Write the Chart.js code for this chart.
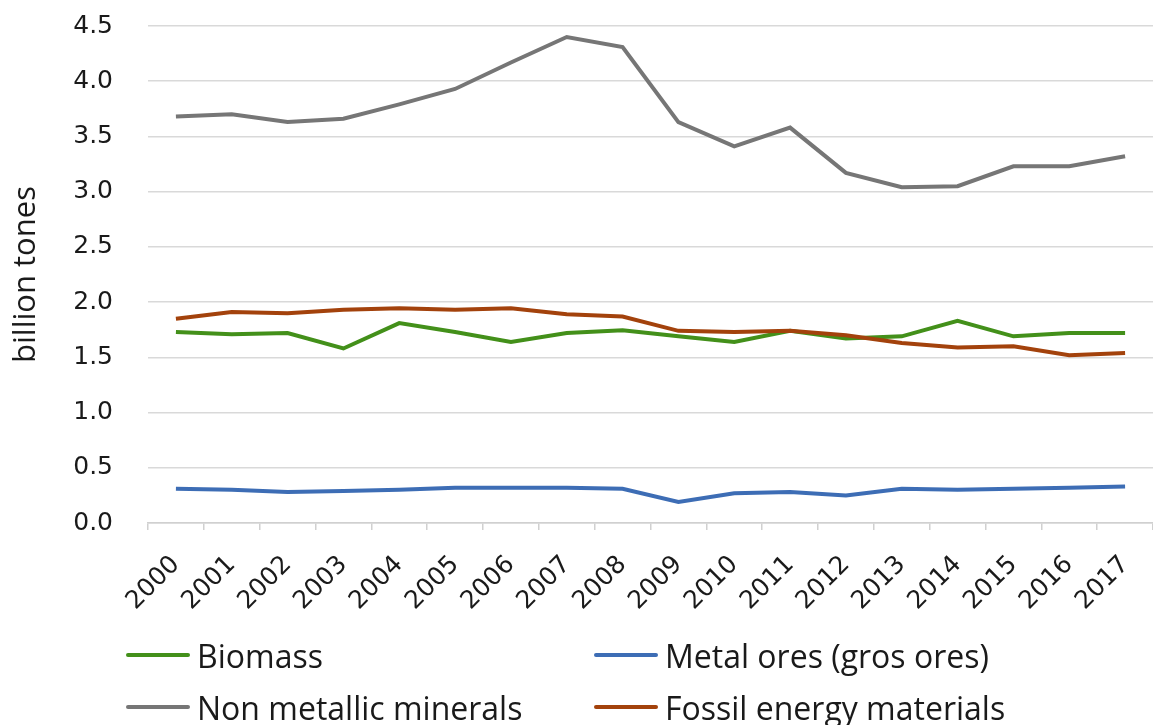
<!DOCTYPE html>
<html>
<head>
<meta charset="utf-8">
<script src="https://cdn.jsdelivr.net/npm/chart.js@4/dist/chart.umd.min.js"></script>
<style>
    body { margin: 0; background: #fff; }
    #wrap { position: relative; width: 1153px; height: 725px; }
    #legend { position: absolute; left: 126px; top: 632px; width: 1000px;
              display: grid; grid-template-columns: 468px 500px; row-gap: 6px;
              font-family: "Open Sans", sans-serif; font-size: 32px; color: #1a1a1a; }
    .item { display: flex; align-items: center; height: 46px; white-space: nowrap; }
    .swatch { width: 64px; height: 4px; margin-right: 7px; border-radius: 2px; }
</style>
</head>
<body>
<div id="wrap">
    <canvas id="material-chart" width="1153" height="725"></canvas>
    <div id="legend"></div>
</div>
<script>
const years = ['2000', '2001', '2002', '2003', '2004', '2005', '2006', '2007', '2008',
               '2009', '2010', '2011', '2012', '2013', '2014', '2015', '2016', '2017'];

const biomass = [1.73, 1.71, 1.72, 1.58, 1.81, 1.73, 1.64, 1.72, 1.745,
                 1.69, 1.64, 1.74, 1.67, 1.69, 1.83, 1.69, 1.72, 1.72];
const metalOres = [0.31, 0.30, 0.28, 0.29, 0.30, 0.32, 0.32, 0.32, 0.31,
                   0.19, 0.27, 0.28, 0.25, 0.31, 0.30, 0.31, 0.32, 0.33];
const nonMetallic = [3.68, 3.70, 3.63, 3.66, 3.79, 3.93, 4.17, 4.40, 4.31,
                     3.63, 3.41, 3.58, 3.17, 3.04, 3.05, 3.23, 3.23, 3.32];
const fossil = [1.85, 1.91, 1.90, 1.93, 1.945, 1.93, 1.945, 1.89, 1.87,
                1.74, 1.73, 1.74, 1.70, 1.63, 1.59, 1.60, 1.52, 1.54];

const yTicks = [0, 0.5, 1.0, 1.5, 2.0, 2.5, 3.0, 3.5, 4.0, 4.5];

const series = [
    { label: 'Biomass', data: biomass, color: '#43901a' },
    { label: 'Metal ores (gros ores)', data: metalOres, color: '#3d6db5' },
    { label: 'Non metallic minerals', data: nonMetallic, color: '#767676' },
    { label: 'Fossil energy materials', data: fossil, color: '#a3420c' }
];

const tickFont = { family: 'DejaVu Sans', size: 25 };

const ctx = document.getElementById('material-chart').getContext('2d');
new Chart(ctx, {
    type: 'line',
    data: {
        labels: years,
        datasets: series.map((s, i) => ({
            label: s.label,
            data: s.data,
            borderColor: s.color,
            backgroundColor: s.color,
            borderWidth: 4,
            pointRadius: 0,
            tension: 0,
            order: series.length - i
        }))
    },
    options: {
        responsive: false,
        animation: false,
        layout: { padding: { top: 26, left: 0, right: 0, bottom: 0 } },
        plugins: {
            legend: { display: false },
            tooltip: { enabled: false }
        },
        scales: {
            x: {
                offset: true,
                grid: { display: true, drawOnChartArea: false, drawTicks: true,
                        tickLength: 7, color: '#d0d0d0', lineWidth: 1.5, offset: true },
                border: { display: true, color: '#d0d0d0', width: 1.5 },
                ticks: { font: tickFont, color: '#1a1a1a', minRotation: 45, maxRotation: 45,
                         padding: 20, autoSkip: false },
                afterFit: scale => {
                    scale.height = 202;
                    scale.paddingLeft = 0;
                    scale.paddingRight = 0;
                }
            },
            y: {
                min: 0,
                max: 4.5,
                afterBuildTicks: scale => { scale.ticks = yTicks.map(v => ({ value: v })); },
                grid: { color: '#d9d9d9', lineWidth: 1.5, drawTicks: false },
                border: { display: false },
                ticks: { font: tickFont, color: '#1a1a1a', padding: 35,
                         callback: v => v.toFixed(1) },
                title: { display: true, text: 'billion tones', color: '#1a1a1a',
                         font: { family: 'Open Sans', size: 31 }, padding: { top: 8, bottom: 0 } },
                afterFit: scale => {
                    scale.width = 148;
                    scale.paddingTop = 0;
                    scale.paddingBottom = 0;
                }
            }
        }
    }
});

// Legenda ve dvou sloupcích
const legend = document.getElementById('legend');
series.forEach(s => {
    const item = document.createElement('div');
    item.className = 'item';
    item.innerHTML = `<span class="swatch" style="background:${s.color}"></span><span>${s.label}</span>`;
    legend.appendChild(item);
});
</script>
</body>
</html>
